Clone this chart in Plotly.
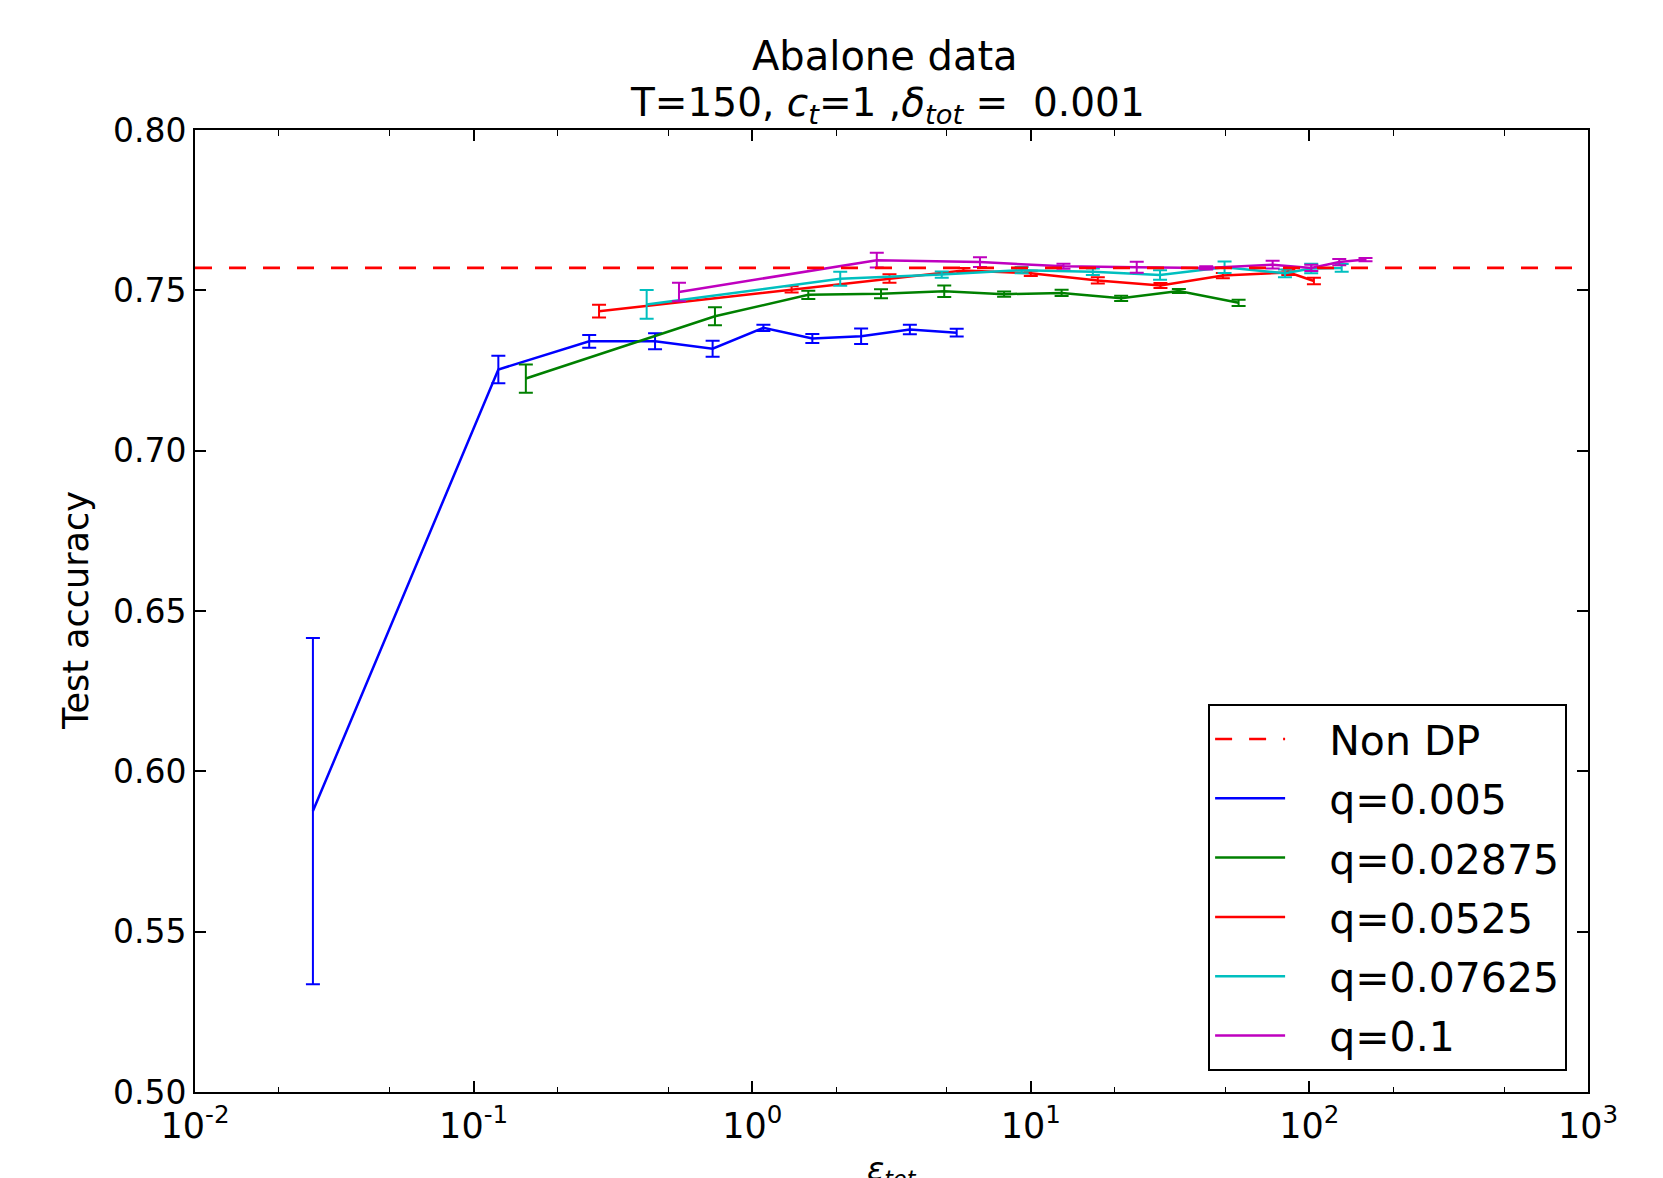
import plotly.graph_objects as go

# ---- data ----
non_dp_acc = 0.757
x_range_ends = [0.01, 1000]

series_names = ["q=0.005", "q=0.02875", "q=0.0525", "q=0.07625", "q=0.1"]
series_colors = ["#0000ff", "#008000", "#ff0000", "#00bfbf", "#bf00bf"]

blue_x = [0.0265, 0.1227, 0.260, 0.448, 0.721, 1.097, 1.644, 2.46, 3.68, 5.42]
blue_y = [0.5876, 0.7253, 0.7341, 0.7341, 0.7318, 0.7383, 0.7350, 0.7357, 0.7378, 0.7368]
blue_err = [0.054, 0.0043, 0.002, 0.0025, 0.0025, 0.001, 0.0014, 0.0024, 0.0015, 0.0012]

green_x = [0.154, 0.735, 1.59, 2.90, 4.89, 8.02, 12.9, 21.1, 34.0, 55.7]
green_y = [0.7225, 0.7419, 0.7486, 0.7489, 0.7497, 0.7488, 0.7492, 0.7475, 0.7498, 0.7461]
green_err = [0.0044, 0.0028, 0.0013, 0.0014, 0.0018, 0.0008, 0.001, 0.0008, 0.0006, 0.001]

red_x = [0.282, 1.385, 3.11, 5.73, 10.0, 17.4, 29.2, 48.9, 84.0, 103.8]
red_y = [0.7435, 0.7503, 0.7537, 0.7562, 0.7553, 0.7531, 0.7515, 0.7546, 0.7556, 0.7529]
red_err = [0.002, 0.001, 0.0013, 0.0008, 0.0008, 0.001, 0.0008, 0.0008, 0.0008, 0.001]

cyan_x = [0.418, 2.07, 4.79, 9.27, 16.7, 29.1, 49.6, 81.7, 101.5, 130.6]
cyan_y = [0.7456, 0.7536, 0.7549, 0.7563, 0.7558, 0.7548, 0.7572, 0.7553, 0.7568, 0.7570]
cyan_err = [0.0045, 0.0022, 0.001, 0.001, 0.001, 0.0015, 0.0018, 0.0012, 0.0015, 0.0012]

magenta_x = [0.546, 2.80, 6.57, 13.1, 24.0, 42.6, 73.8, 101.6, 128.0, 159.0]
magenta_y = [0.7495, 0.7594, 0.7588, 0.7575, 0.7572, 0.7570, 0.7580, 0.7570, 0.7588, 0.7596]
magenta_err = [0.0029, 0.0023, 0.0015, 0.0008, 0.0017, 0.0005, 0.0012, 0.001, 0.001, 0.0005]

x_tickvals = [0.01, 0.1, 1, 10, 100, 1000]
x_ticktext = ["10<sup>-2</sup>", "10<sup>-1</sup>", "10<sup>0</sup>",
              "10<sup>1</sup>", "10<sup>2</sup>", "10<sup>3</sup>"]
y_tickvals = [0.50, 0.55, 0.60, 0.65, 0.70, 0.75, 0.80]

title_line1 = "Abalone data"
title_line2 = "T=150, <i>c</i><sub><i>t</i></sub>=1 ,<i>δ</i><sub><i>tot</i></sub> =  0.001"

all_x = [blue_x, green_x, red_x, cyan_x, magenta_x]
all_y = [blue_y, green_y, red_y, cyan_y, magenta_y]
all_e = [blue_err, green_err, red_err, cyan_err, magenta_err]

FONT = "DejaVu Sans, sans-serif"
PAD = "\u00a0\u00a0\u00a0"

fig = go.Figure()

for i, (name, col, xs, ys, es) in enumerate(zip(series_names, series_colors, all_x, all_y, all_e)):
    fig.add_trace(go.Scatter(
        x=xs, y=ys, mode="lines", name=PAD + name,
        line=dict(color=col, width=2.5),
        error_y=dict(type="data", array=es, visible=True, color=col,
                     thickness=2, width=7),
        legendgroup=f"g{i+1}", legendrank=2 + i,
    ))

# dashed reference line drawn on top, listed first in the legend
fig.add_trace(go.Scatter(
    x=x_range_ends, y=[non_dp_acc, non_dp_acc], mode="lines", name=PAD + "Non DP",
    line=dict(color="#ff0000", width=2.6, dash="17px,17px"),
    legendgroup="g0", legendrank=1,
))

W, H = 1663, 1178
L, R, T, B = 187, 83, 122, 94
PH = H - T - B

fig.update_layout(
    width=W, height=H,
    margin=dict(l=L, r=R, t=T, b=B),
    paper_bgcolor="white", plot_bgcolor="white",
    font=dict(family=FONT, color="black", size=34),
    showlegend=True,
    legend=dict(
        x=0.985, y=0.022, xanchor="right", yanchor="bottom",
        bgcolor="white", bordercolor="black", borderwidth=2,
        font=dict(family=FONT, size=41, color="black"),
        tracegroupgap=3, itemwidth=70,
    ),
)

fig.update_xaxes(
    type="log", range=[-2, 3],
    tickvals=x_tickvals, ticktext=x_ticktext,
    ticks="inside", ticklen=11, tickwidth=1.5, tickcolor="black",
    showline=True, linecolor="black", linewidth=2, mirror="allticks",
    showgrid=False, zeroline=False,
    tickfont=dict(family=FONT, size=35),
    ticklabelstandoff=2,
    minor=dict(ticks="inside", ticklen=5.5, tickwidth=1.2, tickcolor="black", showgrid=False),
)
fig.update_yaxes(
    range=[0.5, 0.8], tickvals=y_tickvals, tickformat=".2f",
    ticks="inside", ticklen=11, tickwidth=1.5, tickcolor="black",
    showline=True, linecolor="black", linewidth=2, mirror="allticks",
    showgrid=False, zeroline=False,
    tickfont=dict(family=FONT, size=33),
    ticklabelstandoff=0,
)

fig.add_annotation(
    text=title_line1, xref="paper", yref="paper",
    x=0.495, y=1 + (T - 48) / PH, xanchor="center", yanchor="middle",
    showarrow=False, font=dict(family=FONT, size=40, color="black"),
)
fig.add_annotation(
    text=title_line2, xref="paper", yref="paper",
    x=0.497, y=1 + (T - 97) / PH, xanchor="center", yanchor="middle",
    showarrow=False, font=dict(family=FONT, size=39, color="black"),
)
fig.add_annotation(
    text="Test accuracy", textangle=-90,
    xref="paper", yref="paper", x=(76 - 195) / (W - L - R), y=0.5,
    xanchor="center", yanchor="middle", showarrow=False,
    font=dict(family=FONT, size=35, color="black"),
)
fig.add_annotation(
    text="<i>ε</i><sub><i>tot</i></sub>",
    xref="paper", yref="paper", x=0.5, y=-(1148 - 1092) / PH,
    xanchor="center", yanchor="top", showarrow=False,
    font=dict(family=FONT, size=32, color="black"),
)

fig.write_html("out.html")
